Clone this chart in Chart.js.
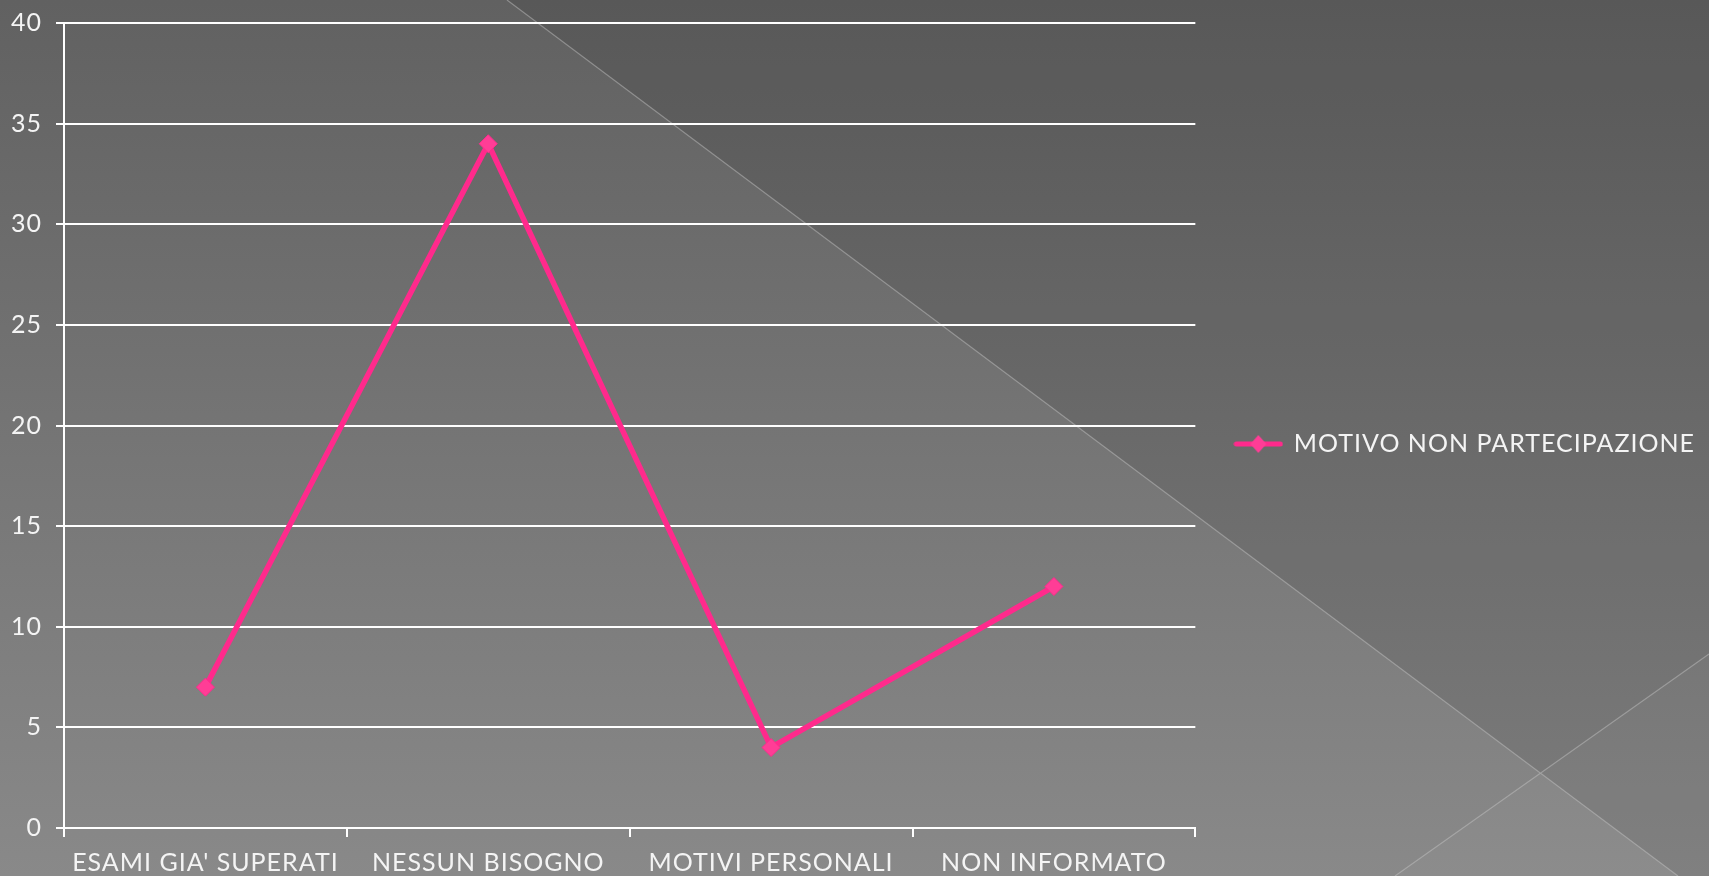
<!DOCTYPE html>
<html lang="it">
	<head>
		<meta charset="utf-8" />
		<title>Motivo non partecipazione</title>
		<script src="https://cdn.jsdelivr.net/npm/chart.js@4/dist/chart.umd.min.js"></script>
		<style>
			html, body { margin: 0; padding: 0; }
			body { width: 1709px; height: 876px; overflow: hidden; background: #6e6e6e; }
			#wrap { position: relative; width: 1709px; height: 876px; }
		</style>
	</head>

	<body>
		<div id="wrap">
			<canvas id="myChart" width="1709" height="876"></canvas>
		</div>

		<script>
			var categories = ["ESAMI GIA' SUPERATI", "NESSUN BISOGNO", "MOTIVI PERSONALI", "NON INFORMATO"];
			var seriesName = "MOTIVO NON PARTECIPAZIONE";
			var values = [7, 34, 4, 12];
			var yTicks = [0, 5, 10, 15, 20, 25, 30, 35, 40];

			var pink = "#ff2a8c";
			var textColor = "#f4f4f4";
			var fontFamily = "Lato, 'Open Sans', sans-serif";

			// legend marker: short line with a diamond in the middle
			var marker = document.createElement("canvas");
			marker.width = 50;
			marker.height = 20;
			var mctx = marker.getContext("2d");
			mctx.strokeStyle = pink;
			mctx.lineWidth = 5;
			mctx.lineCap = "round";
			mctx.beginPath();
			mctx.moveTo(3, 10);
			mctx.lineTo(47, 10);
			mctx.stroke();
			mctx.fillStyle = "#ff3d96";
			mctx.beginPath();
			mctx.moveTo(25, 1);
			mctx.lineTo(33, 10);
			mctx.lineTo(25, 19);
			mctx.lineTo(17, 10);
			mctx.closePath();
			mctx.fill();

			// the original font is wider than Lato
			var spacing = {
				id: "spacing",
				beforeUpdate: function (chart) {
					chart.ctx.letterSpacing = "1px";
				},
				beforeDraw: function (chart) {
					chart.ctx.letterSpacing = "1px";
				},
			};

			// slide background with the two diagonal strokes
			var backdrop = {
				id: "backdrop",
				beforeDraw: function (chart) {
					var c = chart.ctx;
					var w = chart.width, h = chart.height;
					c.save();
					var g = c.createLinearGradient(0, 0, 0, h);
					g.addColorStop(0, "#616161");
					g.addColorStop(1, "#898989");
					c.fillStyle = g;
					c.fillRect(0, 0, w, h);

					c.fillStyle = "rgba(0,0,0,0.09)";
					c.beginPath();
					c.moveTo(507, 0);
					c.lineTo(w, 0);
					c.lineTo(w, h);
					c.lineTo(1678, h);
					c.closePath();
					c.fill();

					c.fillStyle = "rgba(255,255,255,0.03)";
					c.beginPath();
					c.moveTo(1395, h);
					c.lineTo(w, 654);
					c.lineTo(w, h);
					c.closePath();
					c.fill();

					c.strokeStyle = "rgba(200,200,200,0.45)";
					c.lineWidth = 1.2;
					c.beginPath();
					c.moveTo(507, 0);
					c.lineTo(1678, h);
					c.moveTo(1395, h);
					c.lineTo(w, 654);
					c.stroke();
					c.restore();
				},
			};

			var ctx = document.getElementById("myChart").getContext("2d");
			var myChart = new Chart(ctx, {
				type: "line",
				data: {
					labels: categories,
					datasets: [
						{
							label: seriesName,
							data: values,
							borderColor: pink,
							backgroundColor: "#ff3d96",
							borderWidth: 5.5,
							pointStyle: "rectRot",
							pointRadius: 9,
							pointBorderWidth: 1,
							pointBorderColor: pink,
							tension: 0,
						},
					],
				},
				options: {
					responsive: false,
					animation: false,
					layout: {
						padding: { top: 23, left: 10, right: 4, bottom: 0 },
					},
					font: { family: fontFamily, size: 25 },
					plugins: {
						tooltip: { enabled: false },
						legend: {
							position: "right",
							fullSize: false,
							maxWidth: 560,
							// empty title only nudges the entry down a little
							title: {
								display: true,
								text: " ",
								font: { family: fontFamily, size: 25 },
								padding: { top: 0, bottom: 7 },
							},
							labels: {
								color: textColor,
								font: { family: fontFamily, size: 25 },
								usePointStyle: true,
								pointStyle: marker,
								pointStyleWidth: 46,
								padding: 40,
							},
						},
					},
					scales: {
						x: {
							offset: true,
							afterFit: function (axis) {
								axis.height = 48;
								axis.paddingLeft = 0;
								axis.paddingRight = 0;
							},
							grid: {
								offset: true,
								drawOnChartArea: false,
								drawTicks: true,
								tickLength: 9,
								color: "#ffffff",
								lineWidth: 2,
							},
							border: { color: "#ffffff", width: 2 },
							ticks: {
								color: textColor,
								padding: 11,
								maxRotation: 0,
								autoSkip: false,
								font: { family: fontFamily, size: 25 },
							},
						},
						y: {
							min: 0,
							max: 40,
							afterBuildTicks: function (axis) {
								axis.ticks = yTicks.map(function (v) { return { value: v }; });
							},
							afterFit: function (axis) {
								axis.width = 54;
								axis.paddingTop = 0;
								axis.paddingBottom = 0;
							},
							grid: {
								color: "#ffffff",
								lineWidth: 2,
								tickLength: 8,
							},
							border: { color: "#ffffff", width: 2 },
							ticks: {
								color: textColor,
								padding: 14,
								font: { family: fontFamily, size: 25 },
							},
						},
					},
				},
				plugins: [spacing, backdrop],
			});
		</script>
	</body>
</html>
